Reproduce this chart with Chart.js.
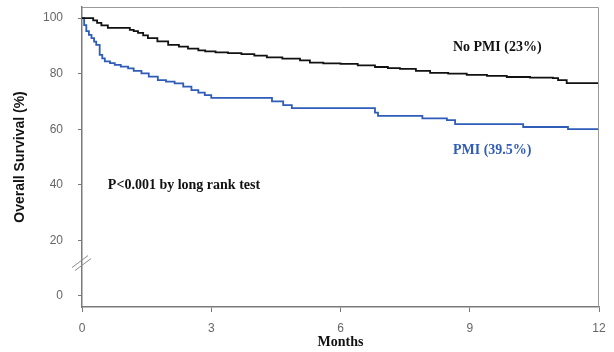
<!DOCTYPE html>
<html>
<head>
<meta charset="utf-8">
<script src="https://cdn.jsdelivr.net/npm/chart.js"></script>
<style>
  html, body { margin: 0; padding: 0; background: #fff; }
  #wrap { width: 614px; height: 352px; }
</style>
</head>
<body>
<div id="wrap"><canvas id="km"></canvas></div>
<script>
// Kaplan-Meier steps (months, survival %)
const noPmiMonths = [0, 0.26, 0.35, 0.45, 0.6, 1.11, 1.2, 1.3, 1.42, 1.53, 1.75, 2.0, 2.25, 2.46, 2.7, 2.86, 3.1, 3.39, 3.7, 4.0, 4.29, 4.65, 5.06, 5.29, 5.6, 6.0, 6.4, 6.8, 7.1, 7.38, 7.75, 8.08, 8.5, 8.93, 9.4, 9.86, 10.4, 10.93, 11.05, 11.25, 12];
const noPmiSurv   = [100, 99.2, 98.3, 97.4, 96.5, 95.8, 95.3, 94.7, 93.8, 92.8, 91.6, 90.4, 89.7, 89.0, 88.4, 88.0, 87.7, 87.4, 87.0, 86.5, 85.9, 85.4, 84.8, 84.0, 83.7, 83.5, 83.0, 82.4, 82.0, 81.7, 81.0, 80.3, 80.0, 79.6, 79.2, 78.8, 78.6, 78.4, 77.7, 76.6, 76.6];

const pmiMonths = [0, 0.05, 0.1, 0.16, 0.22, 0.28, 0.33, 0.41, 0.47, 0.53, 0.65, 0.76, 0.9, 1.07, 1.2, 1.38, 1.55, 1.76, 1.95, 2.15, 2.35, 2.54, 2.7, 2.85, 3.0, 4.41, 4.67, 4.87, 5.25, 6.8, 6.87, 7.9, 8.47, 8.66, 10.24, 11.28, 12];
const pmiSurv   = [100, 97.5, 95.3, 94.0, 92.8, 91.5, 90.4, 86.8, 85.5, 84.4, 83.8, 83.2, 82.5, 81.9, 81.0, 80.1, 78.9, 77.7, 77.1, 76.5, 75.3, 74.1, 73.2, 72.3, 71.3, 70.0, 68.7, 67.6, 67.6, 66.0, 64.8, 63.9, 63.3, 61.8, 60.8, 60.0, 60.0];

const xTicks = [0, 3, 6, 9, 12];
const yTicks = [0, 20, 40, 60, 80, 100];

const toPoints = (xs, ys) => xs.map((x, i) => ({ x: x, y: ys[i] }));

const blue = '#2f5cb8';
const axisGrey = '#7a7a7a';

// labels inside the plot, anchored in data units
const notes = [
  { text: 'No PMI (23%)', x: 8.61, y: 89.3, color: '#111' },
  { text: 'PMI (39.5%)', x: 8.61, y: 52.2, color: blue },
  { text: 'P<0.001 by long rank test', x: 0.6, y: 39.6, color: '#111' }
];

const extras = {
  id: 'extras',
  afterDraw(chart) {
    const ctx = chart.ctx;
    const a = chart.chartArea;
    const xs = chart.scales.x, ys = chart.scales.y;
    ctx.save();
    // top and right frame
    ctx.strokeStyle = '#9a9a9a';
    ctx.lineWidth = 1;
    ctx.beginPath();
    ctx.moveTo(a.left, a.top + 0.5);
    ctx.lineTo(a.right - 0.5, a.top + 0.5);
    ctx.lineTo(a.right - 0.5, a.bottom);
    ctx.stroke();
    // axis break marks between 0 and 20
    const by = ys.getPixelForValue(12);
    ctx.strokeStyle = '#8a8a8a';
    ctx.beginPath();
    ctx.moveTo(a.left - 10, by + 5);
    ctx.lineTo(a.left + 6, by - 7);
    ctx.moveTo(a.left - 7, by + 8);
    ctx.lineTo(a.left + 9, by - 4);
    ctx.stroke();
    // text notes
    ctx.font = 'bold 14px "Liberation Serif", "Times New Roman", serif';
    ctx.textBaseline = 'middle';
    ctx.textAlign = 'left';
    notes.forEach(n => {
      ctx.fillStyle = n.color;
      ctx.fillText(n.text, xs.getPixelForValue(n.x), ys.getPixelForValue(n.y));
    });
    ctx.restore();
  }
};

new Chart(document.getElementById('km'), {
  type: 'line',
  data: {
    datasets: [
      {
        label: 'No PMI',
        data: toPoints(noPmiMonths, noPmiSurv),
        borderColor: '#111',
        borderWidth: 1.8,
        stepped: true,
        pointRadius: 0,
        fill: false
      },
      {
        label: 'PMI',
        data: toPoints(pmiMonths, pmiSurv),
        borderColor: blue,
        borderWidth: 1.8,
        stepped: true,
        pointRadius: 0,
        fill: false
      }
    ]
  },
  options: {
    responsive: true,
    maintainAspectRatio: false,
    animation: false,
    layout: { padding: { left: 0, right: 15, top: 7, bottom: 0 } },
    plugins: {
      legend: { display: false },
      tooltip: { enabled: false }
    },
    scales: {
      x: {
        type: 'linear',
        min: 0,
        max: 12,
        afterBuildTicks: s => { s.ticks = xTicks.map(v => ({ value: v })); },
        afterFit: s => { s.height = 45; s.paddingLeft = 0; s.paddingRight = 0; },
        grid: { drawOnChartArea: false, drawTicks: true, tickLength: 5, color: axisGrey },
        border: { color: axisGrey, width: 1.5 },
        ticks: { color: '#666', padding: 9, maxRotation: 0, font: { family: '"Liberation Sans", Arial, sans-serif', size: 12 } },
        title: {
          display: true,
          text: 'Months',
          color: '#111',
          padding: { top: 0, bottom: 1 },
          font: { family: '"Liberation Serif", "Times New Roman", serif', size: 14, weight: 'bold' }
        }
      },
      y: {
        min: -4,
        max: 104,
        afterBuildTicks: s => { s.ticks = yTicks.map(v => ({ value: v })); },
        afterFit: s => { s.width = 82; s.paddingTop = 0; s.paddingBottom = 0; },
        grid: { drawOnChartArea: false, drawTicks: true, tickLength: 4, color: axisGrey },
        border: { color: axisGrey, width: 1.5 },
        ticks: { color: '#666', padding: 15, font: { family: '"Liberation Sans", Arial, sans-serif', size: 12 } },
        title: {
          display: true,
          text: 'Overall Survival (%)',
          color: '#111',
          padding: { top: 12, bottom: 0 },
          font: { family: '"Liberation Sans", Arial, sans-serif', size: 14, weight: 'bold' }
        }
      }
    }
  },
  plugins: [extras]
});
</script>
</body>
</html>
